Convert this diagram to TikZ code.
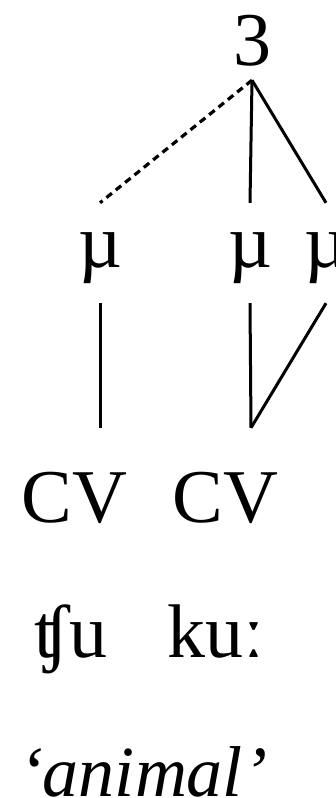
\documentclass[tikz,border=0pt]{standalone}
\usepackage{fontspec}
\setmainfont{Liberation Serif}
\usetikzlibrary{positioning}

\begin{document}
\begin{tikzpicture}[x=1pt,y=-1pt,
  every node/.style={font=\fontsize{76}{80}\selectfont,inner sep=0pt,anchor=base},
  link/.style={line width=3pt},
  weak/.style={line width=3.2pt,dash pattern=on 7pt off 5pt},
  mora/.style={text height=64pt,text depth=36pt},
  seg/.style={text height=94pt,text depth=0pt}]
\useasboundingbox (0,0) rectangle (336,798);
% weight and moras
\node[text depth=15pt] (wt) at (252,65) {3};
\node[mora] (mu1) at (100,267) {µ};
\node[mora] (mu2) at (250,267) {µ};
\node[mora] (mu3) at (326,267) {µ};
% syllables
\node[seg] (v1) at (100,522) {V};
\node[seg,anchor=base east] (c1) at (v1.base west) {C};
\node[seg] (v2) at (251,522) {V};
\node[seg,anchor=base east] (c2) at (v2.base west) {C};
% form and gloss
\node (f1) at (71,657) {ʧu};
\node (f2) at (216,657) {kuː};
\node[font=\fontsize{72}{76}\selectfont\itshape] (gl) at (143,796) {‘animal’};
\draw[weak] (wt.south) -- (mu1.north);
\draw[link] (wt.south) -- (mu2.north);
\draw[link] (wt.south) -- (mu3.north);
\draw[link] (mu1.south) -- (v1.north);
\draw[link] (mu2.south) -- (v2.north);
\draw[link] (mu3.south) -- (v2.north);
\end{tikzpicture}
\end{document}
